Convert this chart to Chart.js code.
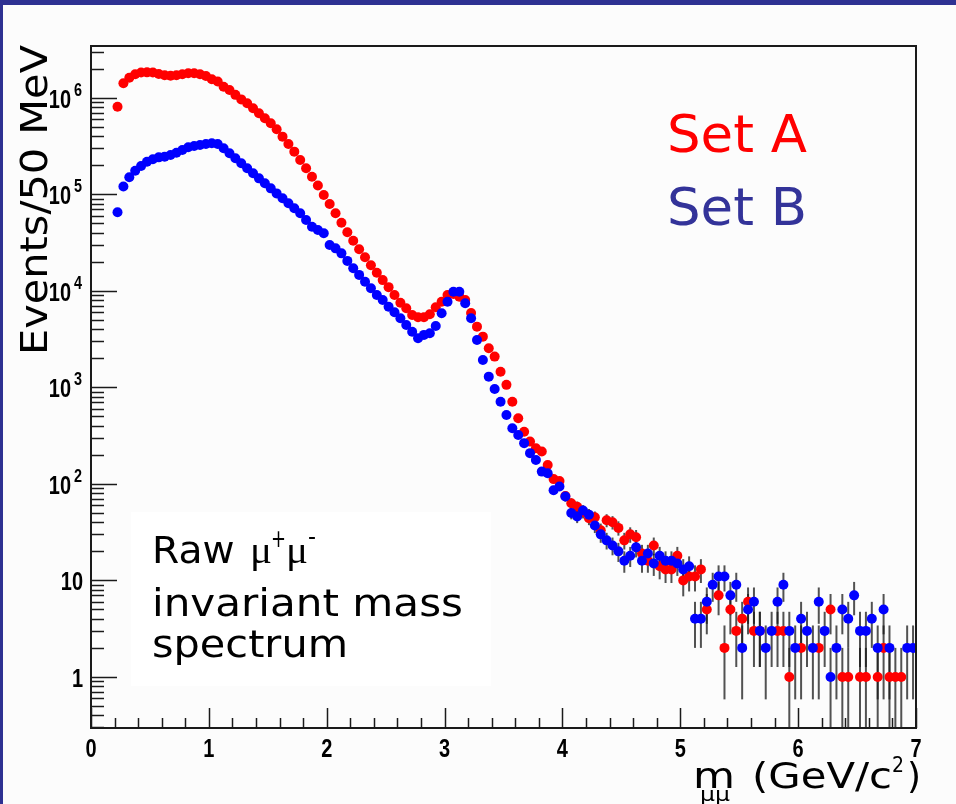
<!DOCTYPE html>
<html>
<head>
<meta charset="utf-8">
<script src="https://cdn.jsdelivr.net/npm/chart.js@4.4.1/dist/chart.umd.min.js"></script>
<style>
  html, body { margin: 0; padding: 0; background: #fcfcfc; }
  #wrap { position: relative; width: 956px; height: 804px; overflow: hidden; }
  canvas { display: block; }
</style>
</head>
<body>
<div id="wrap"><canvas id="spectrum" width="956" height="804"></canvas></div>
<script>
// Set A: dimuon mass bin centres (GeV/c^2) and events per 50 MeV bin
const setAMass = [
  0.225, 0.275, 0.325, 0.375, 0.425, 0.475, 0.525, 0.575, 0.625, 0.675,
  0.725, 0.775, 0.825, 0.875, 0.925, 0.975, 1.025, 1.075, 1.125, 1.175,
  1.225, 1.275, 1.325, 1.375, 1.425, 1.475, 1.525, 1.575, 1.625, 1.675,
  1.725, 1.775, 1.825, 1.875, 1.925, 1.975, 2.025, 2.075, 2.125, 2.175,
  2.225, 2.275, 2.325, 2.375, 2.425, 2.475, 2.525, 2.575, 2.625, 2.675,
  2.725, 2.775, 2.825, 2.875, 2.925, 2.975, 3.025, 3.075, 3.125, 3.175,
  3.225, 3.275, 3.325, 3.375, 3.425, 3.475, 3.525, 3.575, 3.625, 3.675,
  3.725, 3.775, 3.825, 3.875, 3.925, 3.975, 4.025, 4.075, 4.125, 4.175,
  4.225, 4.275, 4.325, 4.375, 4.425, 4.475, 4.525, 4.575, 4.625, 4.675,
  4.725, 4.775, 4.825, 4.875, 4.925, 4.975, 5.025, 5.075, 5.125, 5.175,
  5.225, 5.325, 5.375, 5.425, 5.475, 5.525, 5.575, 5.625, 5.675, 5.825,
  5.875, 5.925, 6.025, 6.175, 6.275, 6.375, 6.425, 6.525, 6.575, 6.675,
  6.725, 6.775, 6.825, 6.875
];
const setAEvents = [
  807000, 1410000, 1610000, 1750000, 1820000, 1830000, 1820000, 1760000, 1710000, 1690000,
  1710000, 1750000, 1790000, 1790000, 1750000, 1680000, 1550000, 1470000, 1300000, 1200000,
  1070000, 960000, 875000, 777000, 689000, 612000, 543000, 471000, 395000, 331000,
  276000, 226000, 186000, 152000, 123000, 98200, 79300, 63500, 50700, 40400,
  33000, 26900, 22200, 18400, 15400, 12900, 10900, 9040, 7530, 6590,
  5610, 5320, 5320, 5710, 6750, 7710, 9040, 9270, 8690, 8030,
  5890, 4250, 3350, 2540, 2080, 1450, 1060, 710, 478, 347,
  274, 234, 216, 157, 112, 107, 75, 63, 58, 51,
  44, 45, 33, 42, 40, 35, 26, 30, 28, 19,
  16, 23, 14, 13, 13, 18, 10, 11, 11, 13,
  5, 7, 2, 5, 3, 4, 6, 3, 3, 3,
  3, 1, 2, 2, 5, 1, 1, 1, 1, 1,
  2, 1, 1, 1
];

// Set B
const setBMass = [
  0.225, 0.275, 0.325, 0.375, 0.425, 0.475, 0.525, 0.575, 0.625, 0.675,
  0.725, 0.775, 0.825, 0.875, 0.925, 0.975, 1.025, 1.075, 1.125, 1.175,
  1.225, 1.275, 1.325, 1.375, 1.425, 1.475, 1.525, 1.575, 1.625, 1.675,
  1.725, 1.775, 1.825, 1.875, 1.925, 1.975, 2.025, 2.075, 2.125, 2.175,
  2.225, 2.275, 2.325, 2.375, 2.425, 2.475, 2.525, 2.575, 2.625, 2.675,
  2.725, 2.775, 2.825, 2.875, 2.925, 2.975, 3.025, 3.075, 3.125, 3.175,
  3.225, 3.275, 3.325, 3.375, 3.425, 3.475, 3.525, 3.575, 3.625, 3.675,
  3.725, 3.775, 3.825, 3.875, 3.925, 3.975, 4.025, 4.075, 4.125, 4.175,
  4.225, 4.275, 4.325, 4.375, 4.425, 4.475, 4.525, 4.575, 4.625, 4.675,
  4.725, 4.775, 4.825, 4.875, 4.925, 4.975, 5.025, 5.075, 5.125, 5.175,
  5.225, 5.275, 5.325, 5.375, 5.425, 5.475, 5.525, 5.575, 5.625, 5.675,
  5.725, 5.775, 5.825, 5.875, 5.925, 5.975, 6.025, 6.075, 6.125, 6.175,
  6.225, 6.275, 6.325, 6.375, 6.425, 6.475, 6.525, 6.575, 6.625, 6.675,
  6.725, 6.775, 6.925, 6.975
];
const setBEvents = [
  65000, 120000, 150000, 175000, 196000, 217000, 230000, 241000, 245000, 255000,
  269000, 287000, 306000, 316000, 324000, 332000, 337000, 332000, 299000, 266000,
  236000, 209000, 186000, 165000, 146000, 130000, 115000, 102000, 90800, 80600,
  71500, 63500, 54100, 46100, 42600, 39400, 29800, 27500, 24400, 20400,
  17100, 14600, 12400, 10600, 9040, 8030, 6840, 5990, 5190, 4420,
  3770, 3220, 3490, 3630, 4320, 5850, 7710, 9790, 9790, 7430,
  5190, 3090, 1920, 1290, 962, 710, 517, 377, 321, 264,
  208, 177, 134, 129, 86, 94, 74, 50, 46, 53,
  48, 37, 30, 26, 23, 20, 16, 18, 22, 16,
  19, 15, 18, 16, 16, 15, 13, 14, 4, 4,
  6, 9, 11, 11, 7, 9, 2, 5, 6, 3,
  2, 3, 6, 9, 3, 2, 4, 3, 2, 6,
  3, 1, 2, 5, 4, 7, 3, 3, 4, 2,
  5, 2, 2, 2
];

const xTickLabels = ['0', '1', '2', '3', '4', '5', '6', '7'];
const yDecades = [0, 1, 2, 3, 4, 5, 6];

function points(xs, ys) {
  return xs.map((x, i) => ({ x: x, y: ys[i] }));
}

// text squeezed/stretched horizontally, like the narrow ROOT fonts
function squeezed(ctx, text, x, y, font, sx, align) {
  ctx.save();
  ctx.font = font;
  const w = ctx.measureText(text).width * sx;
  let x0 = x;
  if (align === 'right') x0 = x - w;
  else if (align === 'center') x0 = x - w / 2;
  ctx.translate(x0, y);
  ctx.scale(sx, 1);
  ctx.textAlign = 'left';
  ctx.fillText(text, 0, 0);
  ctx.restore();
  return w;
}

// text drawn to a given width
function fitted(ctx, text, x, y, font, width) {
  ctx.save();
  ctx.font = font;
  const sx = width / ctx.measureText(text).width;
  ctx.translate(x, y);
  ctx.scale(sx, 1);
  ctx.textAlign = 'left';
  ctx.fillText(text, 0, 0);
  ctx.restore();
}

const errorBars = {
  id: 'errorBars',
  beforeDatasetsDraw(chart) {
    const ctx = chart.ctx;
    const area = chart.chartArea;
    const ys = chart.scales.y;
    // white label box behind the caption
    ctx.save();
    ctx.fillStyle = '#ffffff';
    ctx.fillRect(131, 512, 360, 174);
    ctx.restore();

    ctx.save();
    ctx.strokeStyle = 'rgba(25,25,25,0.75)';
    ctx.lineWidth = 2;
    chart.data.datasets.forEach((ds, di) => {
      const meta = chart.getDatasetMeta(di);
      ds.data.forEach((p, i) => {
        const err = Math.sqrt(p.y);
        const px = meta.data[i].x;
        const top = Math.max(area.top, ys.getPixelForValue(p.y + err));
        const lo = p.y - err;
        const bottom = lo > 0 ? Math.min(area.bottom, ys.getPixelForValue(lo)) : area.bottom;
        ctx.beginPath();
        ctx.moveTo(px, top);
        ctx.lineTo(px, bottom);
        ctx.stroke();
      });
    });
    ctx.restore();
  }
};

const frameAndText = {
  id: 'frameAndText',
  afterDatasetsDraw(chart) {
    const ctx = chart.ctx;
    const a = chart.chartArea;
    const xs = chart.scales.x;
    const ys = chart.scales.y;

    ctx.save();
    ctx.strokeStyle = '#1a1a1a';
    ctx.lineWidth = 2;
    ctx.strokeRect(a.left, a.top, a.right - a.left, a.bottom - a.top);

    // x ticks every 0.2, long ones on integers
    ctx.lineWidth = 1.5;
    ctx.beginPath();
    for (let k = 0; k <= 35; k++) {
      const px = Math.round(xs.getPixelForValue(k * 0.2)) + 0.5;
      const len = k % 5 === 0 ? 20 : 10;
      ctx.moveTo(px, a.bottom);
      ctx.lineTo(px, a.bottom - len);
    }
    ctx.stroke();

    // y ticks: decades long, 2..9 short
    ctx.beginPath();
    for (let d = -1; d <= 6; d++) {
      for (let m = 1; m <= 9; m++) {
        const v = m * Math.pow(10, d);
        if (v < ys.min || v > ys.max) continue;
        const py = Math.round(ys.getPixelForValue(v)) + 0.5;
        const len = m === 1 ? 26 : 13;
        ctx.moveTo(a.left, py);
        ctx.lineTo(a.left + len, py);
      }
    }
    ctx.stroke();
    ctx.restore();

    // tick labels
    ctx.save();
    ctx.fillStyle = '#000000';
    ctx.textBaseline = 'alphabetic';
    xTickLabels.forEach((t, i) => {
      squeezed(ctx, t, xs.getPixelForValue(i), 757, 'bold 25px "Liberation Sans"', 0.8, 'center');
    });
    yDecades.forEach(d => {
      const py = ys.getPixelForValue(Math.pow(10, d));
      if (d === 0) {
        squeezed(ctx, '1', 83, py + 10, 'bold 25px "Liberation Sans"', 0.8, 'right');
      } else if (d === 1) {
        squeezed(ctx, '10', 83, py + 10, 'bold 25px "Liberation Sans"', 0.8, 'right');
      } else {
        squeezed(ctx, String(d), 82, py - 2, 'bold 18px "Liberation Sans"', 0.8, 'right');
        squeezed(ctx, '10', 71, py + 10, 'bold 25px "Liberation Sans"', 0.8, 'right');
      }
    });
    ctx.restore();

    // axis titles
    ctx.save();
    ctx.fillStyle = '#000000';
    ctx.translate(47, 355);
    ctx.rotate(-Math.PI / 2);
    fitted(ctx, 'Events/50 MeV', 0, 0, '37px "DejaVu Sans Condensed", "DejaVu Sans"', 310);
    ctx.restore();

    ctx.save();
    ctx.fillStyle = '#000000';
    fitted(ctx, 'm', 693, 788, '36px "DejaVu Sans Condensed", "DejaVu Sans"', 42);
    fitted(ctx, '\u03bc\u03bc', 700, 801, '19px "DejaVu Sans Condensed", "DejaVu Sans"', 30);
    fitted(ctx, '(GeV/c', 752, 788, '36px "DejaVu Sans Condensed", "DejaVu Sans"', 140);
    fitted(ctx, '2', 892, 772, '22px "DejaVu Sans Condensed", "DejaVu Sans"', 12);
    fitted(ctx, ')', 907, 788, '36px "DejaVu Sans Condensed", "DejaVu Sans"', 14);
    ctx.restore();

    // set labels
    ctx.save();
    ctx.fillStyle = '#ff0000';
    fitted(ctx, 'Set A', 667, 152, '52px "DejaVu Sans"', 140);
    ctx.fillStyle = '#333399';
    fitted(ctx, 'Set B', 667, 225, '52px "DejaVu Sans"', 140);
    ctx.restore();

    // caption
    ctx.save();
    ctx.fillStyle = '#000000';
    fitted(ctx, 'Raw ', 152, 563, '37px "DejaVu Sans"', 95);
    fitted(ctx, '\u03bc', 250, 563, '38px "Liberation Serif"', 22);
    fitted(ctx, '+', 271, 547, '24px "DejaVu Sans"', 15);
    fitted(ctx, '\u03bc', 286, 563, '38px "Liberation Serif"', 22);
    fitted(ctx, '-', 308, 545, '24px "DejaVu Sans"', 8);
    fitted(ctx, 'invariant mass', 152, 616, '37px "DejaVu Sans"', 311);
    fitted(ctx, 'spectrum', 152, 657, '37px "DejaVu Sans"', 196);
    ctx.restore();

    // slide edges
    ctx.save();
    ctx.fillStyle = '#2e3192';
    ctx.fillRect(0, 0, 956, 5);
    ctx.fillRect(0, 0, 3, 804);
    ctx.restore();
  }
};

new Chart(document.getElementById('spectrum'), {
  type: 'scatter',
  data: {
    datasets: [
      {
        label: 'Set B',
        data: points(setBMass, setBEvents),
        pointRadius: 5,
        pointBorderWidth: 0,
        pointBackgroundColor: '#0000ff',
        borderColor: '#0000ff',
        showLine: false
      },
      {
        label: 'Set A',
        data: points(setAMass, setAEvents),
        pointRadius: 5,
        pointBorderWidth: 0,
        pointBackgroundColor: '#ff0000',
        borderColor: '#ff0000',
        showLine: false
      }
    ]
  },
  options: {
    responsive: false,
    devicePixelRatio: 1,
    animation: false,
    layout: { padding: { left: 91, top: 46, right: 40, bottom: 76 } },
    plugins: { legend: { display: false }, tooltip: { enabled: false } },
    scales: {
      x: { type: 'linear', min: 0, max: 7, bounds: 'data', display: false },
      y: { type: 'logarithmic', min: 0.296, max: 3.43e6, bounds: 'data', display: false }
    }
  },
  plugins: [errorBars, frameAndText]
});
</script>
</body>
</html>
